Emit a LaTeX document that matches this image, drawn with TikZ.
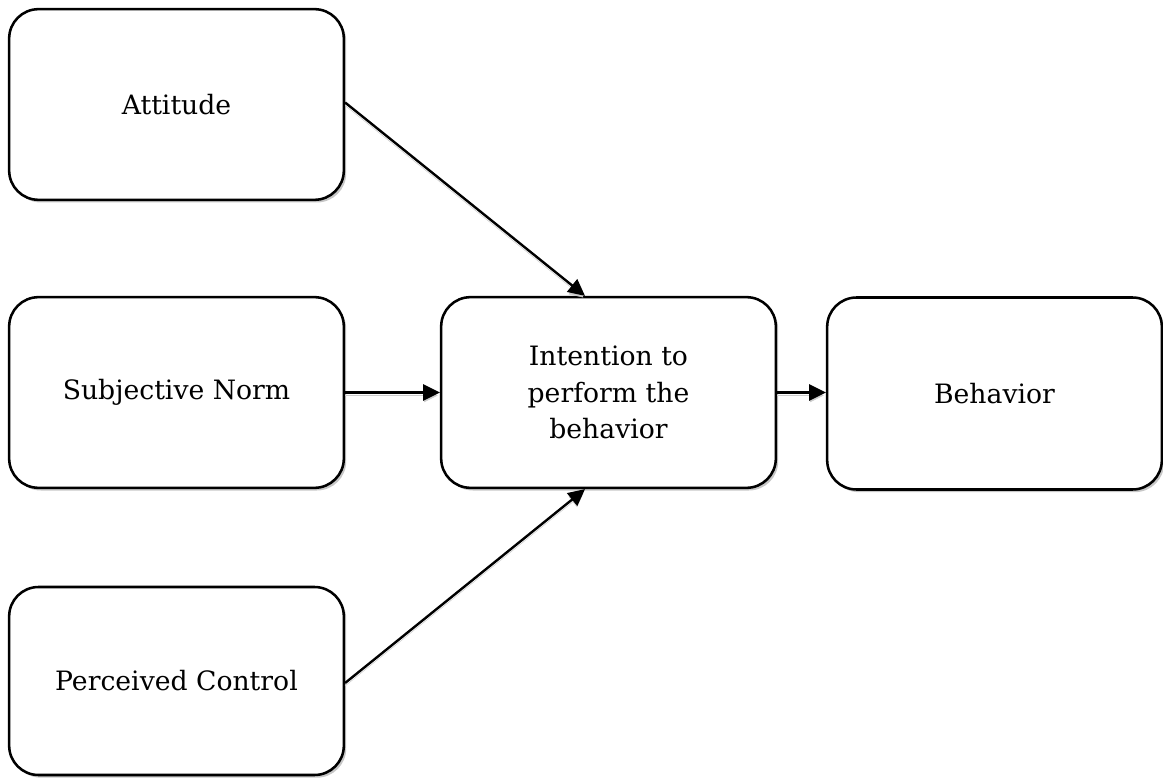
\documentclass[tikz,border=0pt]{standalone}
\usepackage{fontspec}
\setmainfont{DejaVu Serif}
\usetikzlibrary{arrows.meta,shadows}
\begin{document}
\begin{tikzpicture}[x=0.75pt,y=-0.75pt,
  box/.style={draw=black,line width=1.9pt,rounded corners=22pt,fill=white,
    minimum width=251pt,minimum height=143pt,align=center,inner sep=0pt,
    font=\fontsize{20}{27.5}\selectfont,
    drop shadow={shadow xshift=1.8pt,shadow yshift=-2pt,fill=black!22,opacity=1}},
  conn/.style={line width=1.8pt,-{Triangle[length=12.5pt,width=12pt]},
    preaction={draw=black!20,-{Triangle[length=12.5pt,width=12pt]},transform canvas={yshift=-2.2pt}}}]
\useasboundingbox (0,0) rectangle (1163,780);
\node[box] (att) at (176.5,104.5) {Attitude};
\node[box] (sub) at (176.5,392.5) {Subjective Norm};
\node[box,minimum height=141pt] (per) at (176.5,681) {Perceived Control};
\node[box] (int) at (608.5,392.5) {Intention to\\perform the\\behavior};
\node[box,minimum height=144pt] (beh) at (994.5,393.5) {Behavior};
\coordinate (intT) at ([xshift=-17.6pt]int.north);
\coordinate (intB) at ([xshift=-17.6pt]int.south);
\draw[conn] ([yshift=1.5pt]att.east) -- (intT);
\draw[conn] ([yshift=-1.5pt]per.east) -- (intB);
\draw[conn] (sub.east) -- (int.west);
\draw[conn] (int.east) -- (int.east -| beh.west);
\end{tikzpicture}
\end{document}
